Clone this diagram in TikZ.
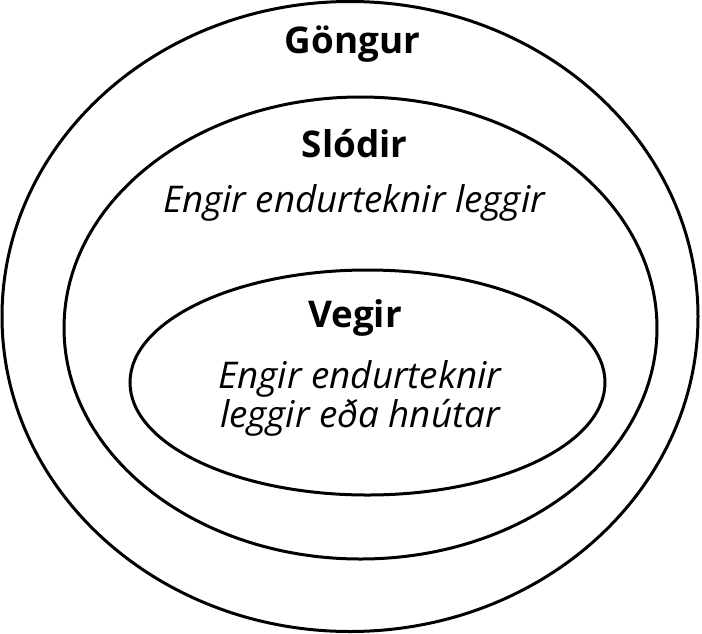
\documentclass[tikz,border=0pt]{standalone}
\usepackage{fontspec}
\setmainfont{Open Sans}
\begin{document}
\begin{tikzpicture}[x=1pt,y=-1pt,
  ring/.style={draw=black,line width=3pt},
  title/.style={font=\fontsize{36.8}{40}\selectfont\bfseries,anchor=base,inner sep=0pt},
  desc/.style={font=\fontsize{36.8}{39}\selectfont\itshape,anchor=base,inner sep=0pt,align=center}]
\useasboundingbox (0,0) rectangle (702,633);
\draw[ring] (350,316.5) ellipse [x radius=348, y radius=315];
\draw[ring] (360.5,328) ellipse [x radius=296.5, y radius=231];
\draw[ring] (367.5,382.5) ellipse [x radius=237.5, y radius=112.5];
\node[title] (gongur) at (352.5,53) {Göngur};
\node[title] (slodir) at (354.5,157) {Slódir};
\node[desc] (slodirdesc) at (354,212) {Engir endurteknir leggir};
\node[title] (vegir) at (355,327) {Vegir};
\node[desc] (vegirdesc) at (360,427) {Engir endurteknir\\leggir eða hnútar};
\end{tikzpicture}
\end{document}
